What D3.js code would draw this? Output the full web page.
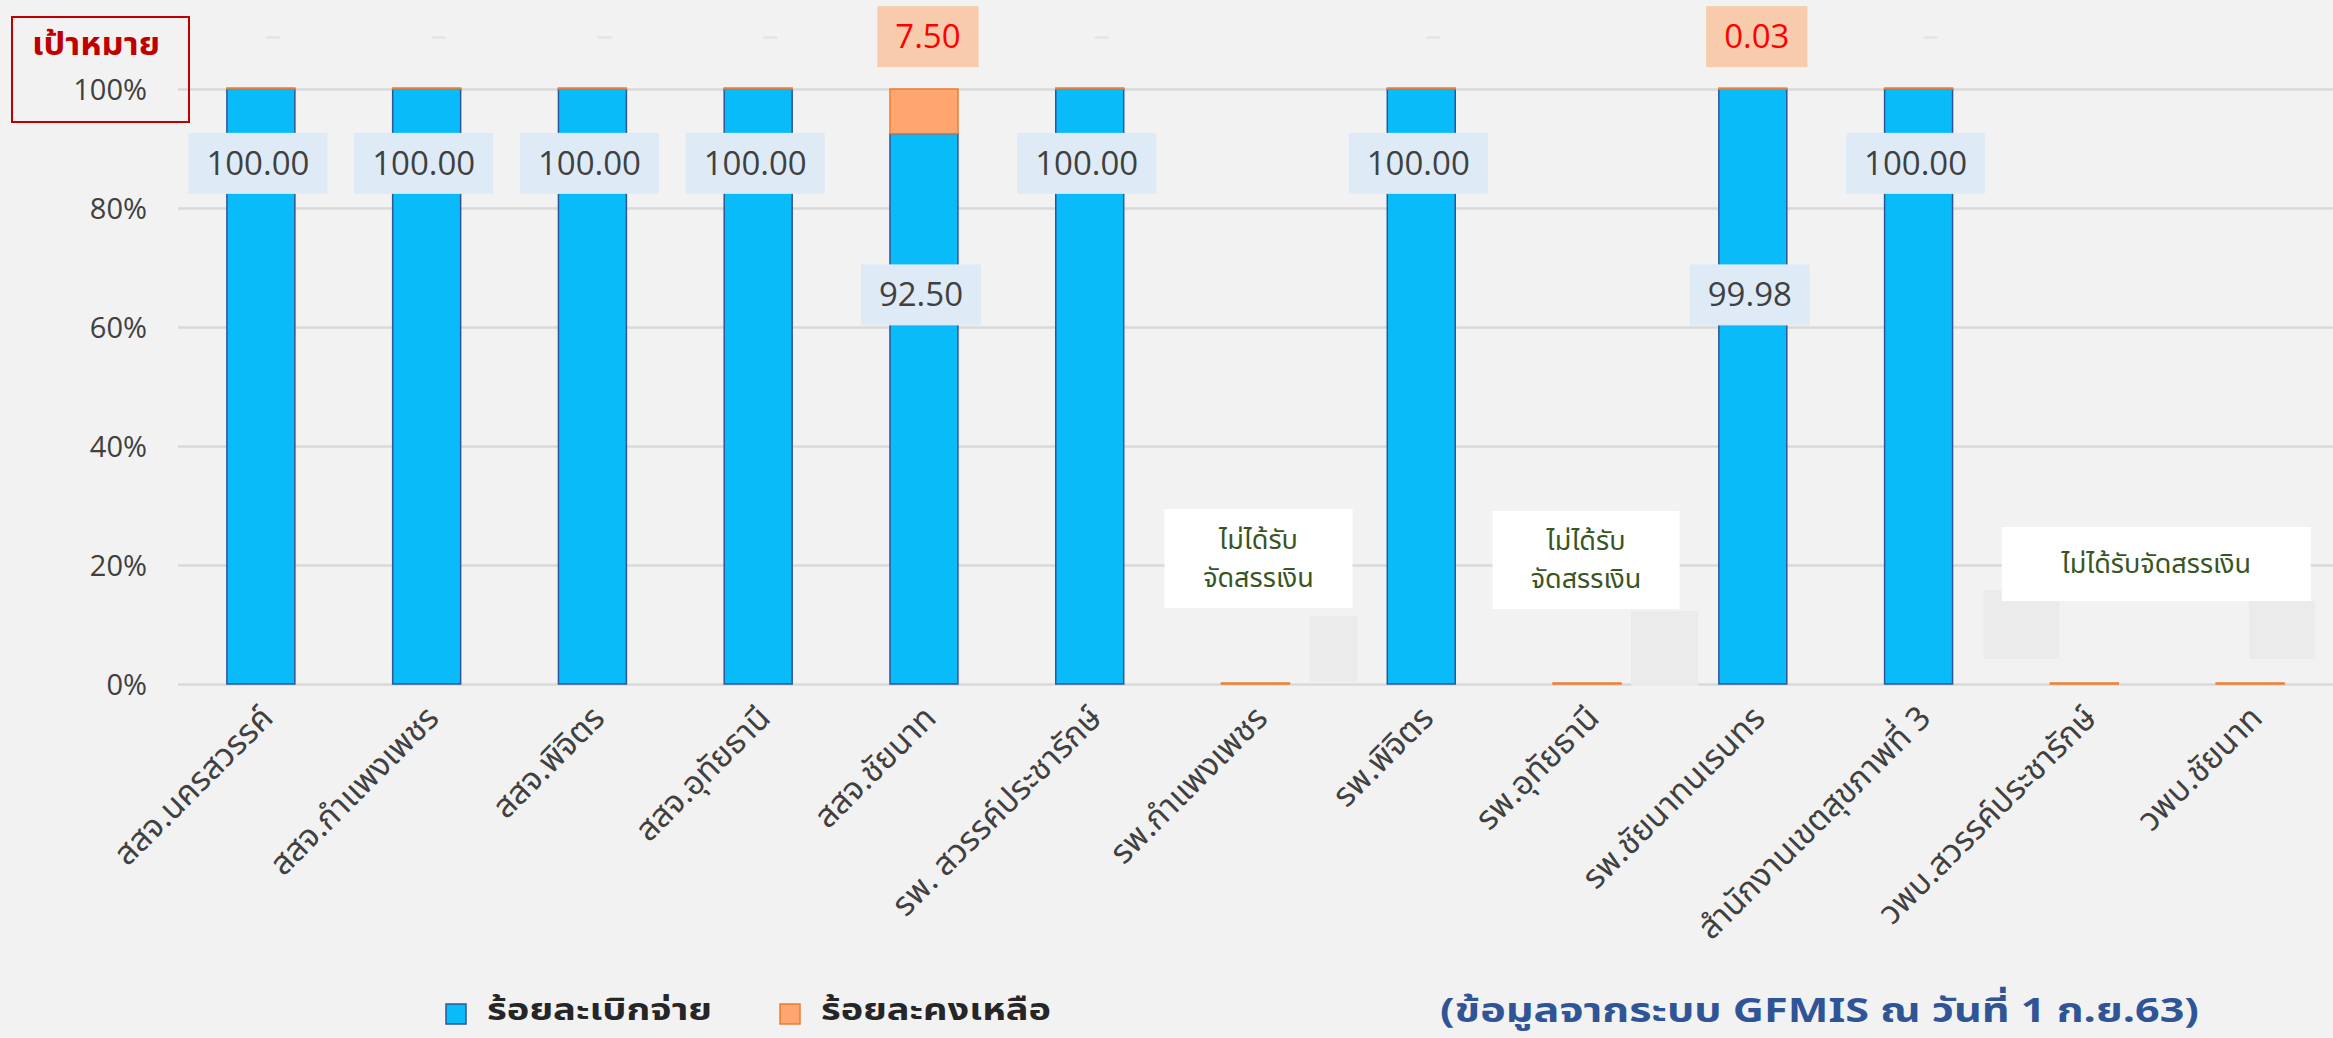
<!DOCTYPE html>
<html>
<head>
<meta charset="utf-8">
<style>
  html, body { margin: 0; padding: 0; background: #f2f2f2; }
  svg { display: block; }
</style>
</head>
<body>
<div id="container"></div>
<script src="https://cdn.jsdelivr.net/npm/d3@7"></script>
<script>
// categories (x axis)
const categories = [
    "สสจ.นครสวรรค์", "สสจ.กำแพงเพชร", "สสจ.พิจิตร", "สสจ.อุทัยธานี",
    "สสจ.ชัยนาท", "รพ. สวรรค์ประชารักษ์", "รพ.กำแพงเพชร", "รพ.พิจิตร",
    "รพ.อุทัยธานี", "รพ.ชัยนาทนเรนทร", "สำนักงานเขตสุขภาพที่ 3",
    "วพบ.สวรรค์ประชารักษ์", "วพบ.ชัยนาท"
];
// ร้อยละเบิกจ่าย
const disbursed = [100, 100, 100, 100, 92.5, 100, 0, 100, 0, 99.98, 100, 0, 0];
// ร้อยละคงเหลือ
const remaining = [0, 0, 0, 0, 7.5, 0, 0, 0, 0, 0.03, 0, 0, 0];
const yTicks = [0, 20, 40, 60, 80, 100];
const seriesNames = ["ร้อยละเบิกจ่าย", "ร้อยละคงเหลือ"];
const noFundText = "ไม่ได้รับจัดสรรเงิน";
const sourceText = "(ข้อมูลจากระบบ GFMIS ณ วันที่ 1 ก.ย.63)";

const W = 2333, H = 1038;
const thaiFont = "'Noto Sans Thai', 'Leelawadee UI', Tahoma, 'Noto Sans', sans-serif";
const numFont = "'Open Sans', 'Noto Sans', sans-serif";
const blue = "#0abbf9", blueEdge = "#2f5597";
const orange = "#ffa56e", orangeEdge = "#ed7d31";

const svg = d3.select("#container").append("svg")
    .attr("width", W).attr("height", H)
    .style("background", "#f2f2f2");

const x = d3.scaleBand().domain(categories).range([178, W])
    .paddingInner(0.59).paddingOuter(0.295);
const y = d3.scaleLinear().domain([0, 100]).range([684, 89]);
const cx = c => x(c) + x.bandwidth() / 2;

// gridlines
svg.append("g")
    .attr("transform", "translate(178,0)")
    .call(d3.axisLeft(y).tickValues(yTicks).tickSize(-(W - 178)).tickFormat(""))
    .call(g => g.select(".domain").remove())
    .call(g => g.selectAll("line").attr("stroke", "#d9d9d9").attr("stroke-width", 2.5));

// y tick labels
svg.append("g")
    .attr("transform", "translate(147,0)")
    .call(d3.axisLeft(y).tickValues(yTicks).tickSize(0).tickFormat(d => d + "%"))
    .call(g => g.select(".domain").remove())
    .call(g => g.selectAll("text")
        .attr("x", 0).attr("dy", "0.35em")
        .attr("font-family", numFont).attr("font-size", 29)
        .attr("fill", "#404040"));

// target box
svg.append("rect").attr("x", 12).attr("y", 17).attr("width", 177).attr("height", 105)
    .attr("fill", "none").attr("stroke", "#c00000").attr("stroke-width", 2);
svg.append("text").attr("x", 96).attr("y", 55).attr("text-anchor", "middle")
    .attr("font-family", thaiFont).attr("font-weight", "bold").attr("font-size", 31)
    .attr("textLength", 128).attr("lengthAdjust", "spacingAndGlyphs")
    .attr("fill", "#c00000").text("เป้าหมาย");

// stacked bars
const rows = categories.map((c, i) => ({ c, a: disbursed[i], b: remaining[i] }));
const bars = svg.append("g");
bars.selectAll("rect.blue").data(rows.filter(d => d.a > 0)).join("rect")
    .attr("class", "blue")
    .attr("x", d => x(d.c)).attr("width", x.bandwidth())
    .attr("y", d => y(d.a)).attr("height", d => y(0) - y(d.a))
    .attr("fill", blue).attr("stroke", blueEdge).attr("stroke-width", 1.5);
bars.selectAll("rect.orange").data(rows).join("rect")
    .attr("class", "orange")
    .attr("x", d => x(d.c)).attr("width", x.bandwidth())
    .attr("y", d => Math.min(y(d.a + d.b), y(d.a) - 1))
    .attr("height", d => Math.max(1, y(d.a) - y(d.a + d.b)))
    .attr("fill", orange).attr("stroke", orangeEdge).attr("stroke-width", 1.5);

// faint leftovers of empty labels
bars.selectAll("rect.dash").data(rows.filter(d => d.a >= 99.99 && d.b === 0)).join("rect")
    .attr("x", d => cx(d.c) + 5).attr("y", 36).attr("width", 14).attr("height", 3)
    .attr("fill", "#e6e6e6");
const ghosts = [[6, 54, 48, 616, 66], [8, 44, 67, 611, 75], [11, -101, 76, 590, 69], [12, -1, 66, 601, 58]];
bars.selectAll("rect.ghost").data(ghosts).join("rect")
    .attr("x", d => cx(categories[d[0]]) + d[1]).attr("width", d => d[2])
    .attr("y", d => d[3]).attr("height", d => d[4])
    .attr("fill", "#ebebeb");

// data label helper
function label(g, xc, yc, txt, fill, color) {
    const t = g.append("text").attr("x", xc).attr("y", yc).attr("dy", "0.35em")
        .attr("text-anchor", "middle")
        .attr("font-family", numFont).attr("font-size", 33)
        .attr("fill", color).text(txt);
    const w = t.node().getComputedTextLength() + 36;
    g.insert("rect", "text").attr("x", xc - w / 2).attr("y", yc - 30.5)
        .attr("width", w).attr("height", 61).attr("fill", fill);
}
const labels = svg.append("g");
rows.forEach(d => {
    if (d.a > 0) {
        const at = d.a >= 99.99 ? 87.5 : 65.4;
        const lg = labels.append("g");
        label(lg, cx(d.c) - 3, y(at), d.a.toFixed(2), "#deebf7", "#404040");
    }
    if (d.b > 0) {
        const lg = labels.append("g");
        label(lg, cx(d.c) + 4, y(108.8), d.b.toFixed(2), "#f8cbad", "#ff0000");
    }
});

// "no funding" notes
const notes = svg.append("g");
function note(xc, top, w, h, lines) {
    notes.append("rect").attr("x", xc - w / 2).attr("y", top).attr("width", w).attr("height", h)
        .attr("fill", "#ffffff");
    const lh = 38;
    lines.forEach((s, k) => {
        notes.append("text").attr("x", xc)
            .attr("y", top + h / 2 + (k - (lines.length - 1) / 2) * lh)
            .attr("dy", "0.35em").attr("text-anchor", "middle")
            .attr("font-family", thaiFont).attr("font-size", 27)
            .attr("fill", "#375623").text(s);
    });
}
note(cx(categories[6]) + 3, 509, 188, 99, ["ไม่ได้รับ", "จัดสรรเงิน"]);
note(cx(categories[8]) - 1, 511, 187, 98, ["ไม่ได้รับ", "จัดสรรเงิน"]);
note((cx(categories[11]) + cx(categories[12])) / 2 - 11, 527, 309, 74, [noFundText]);

// x axis labels
svg.append("g").selectAll("text").data(categories).join("text")
    .attr("transform", d => `translate(${cx(d) + 14},${720}) rotate(-45)`)
    .attr("text-anchor", "end")
    .attr("font-family", thaiFont).attr("font-size", 33)
    .attr("fill", "#404040").text(d => d);

// legend
const legend = svg.append("g");
[[446, blue, blueEdge, seriesNames[0], 225], [780, orange, orangeEdge, seriesNames[1], 230]].forEach(l => {
    legend.append("rect").attr("x", l[0]).attr("y", 1004).attr("width", 20).attr("height", 20)
        .attr("fill", l[1]).attr("stroke", l[2]).attr("stroke-width", 1.5);
    legend.append("text").attr("x", l[0] + 41).attr("y", 1009).attr("dy", "0.35em")
        .attr("font-family", thaiFont).attr("font-size", 30).attr("font-weight", "bold")
        .attr("textLength", l[4]).attr("lengthAdjust", "spacingAndGlyphs")
        .attr("fill", "#262626").text(l[3]);
});

// source note
svg.append("text").attr("x", 1440).attr("y", 1010).attr("dy", "0.35em")
    .attr("font-family", thaiFont).attr("font-size", 34).attr("font-weight", "bold")
    .attr("textLength", 759).attr("lengthAdjust", "spacingAndGlyphs")
    .attr("fill", "#2f5597").text(sourceText);
</script>
</body>
</html>
